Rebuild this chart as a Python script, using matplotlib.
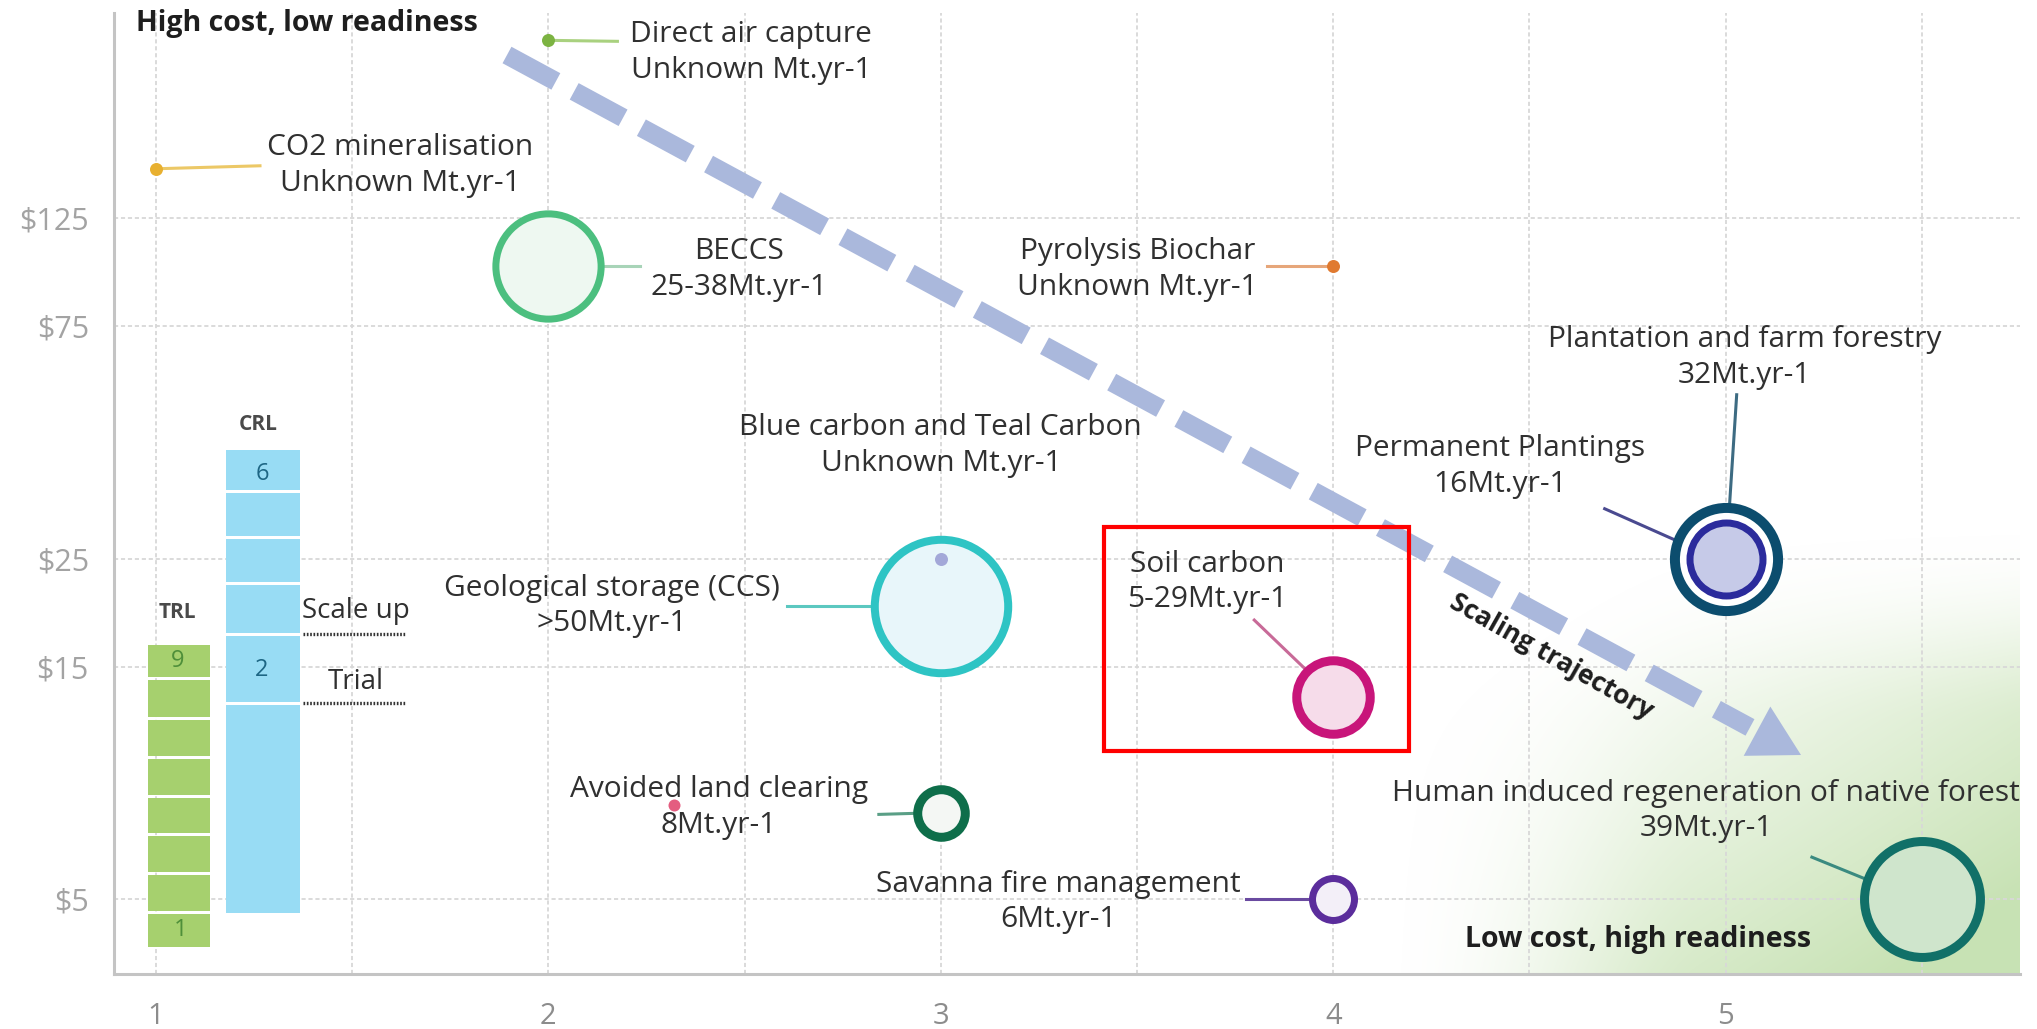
import numpy as np
import matplotlib
matplotlib.use("Agg")
import matplotlib.pyplot as plt
from matplotlib.transforms import IdentityTransform
from matplotlib.patches import Rectangle, Polygon
from matplotlib.lines import Line2D
from matplotlib.ticker import NullLocator, NullFormatter

plt.rcParams['font.family'] = ['Open Sans', 'DejaVu Sans']
plt.rcParams['lines.scale_dashes'] = False

# ---------------- data ----------------
names = ["Direct air capture", "CO2 mineralisation", "BECCS", "Pyrolysis Biochar",
         "Blue carbon and Teal Carbon", "Geological storage (CCS)", "Soil carbon",
         "Avoided land clearing", "Savanna fire management",
         "Plantation and farm forestry", "Permanent Plantings",
         "Human induced regeneration of native forest"]
readiness = [2, 1, 2, 4, 3, 3, 4, 3, 4, 5, 5, 5.5]
cost = [290, 158, 100, 100, 25, 20, 13, 7.5, 5, 25, 25, 5]
potential_text = ["Unknown Mt.yr-1", "Unknown Mt.yr-1", "25-38Mt.yr-1", "Unknown Mt.yr-1",
                  "Unknown Mt.yr-1", ">50Mt.yr-1", "5-29Mt.yr-1", "8Mt.yr-1", "6Mt.yr-1",
                  "32Mt.yr-1", "16Mt.yr-1", "39Mt.yr-1"]
potential_mt = [np.nan, np.nan, 31.5, np.nan, np.nan, 50, 17, 8, 6, 32, 16, 39]

extra_dot_readiness = [2.32]
extra_dot_cost = [7.8]

xtick_vals = [1, 2, 3, 4, 5]
xtick_labels = ["1", "2", "3", "4", "5"]
ytick_vals = [5, 15, 25, 75, 125]
ytick_labels = ["$5", "$15", "$25", "$75", "$125"]

trl_labels = ["9", "1"]
crl_labels = ["6", "2"]

# ---------------- styles (pixel offsets: +x right, +y down) ----------------
TXT = "#303030"
styles = {
    "Direct air capture": dict(ec="#7cb342", fc="#7cb342", lc="#a9d17f", ring=0,
                               text=(203, 12), lead=((69, 1), (0, 0))),
    "CO2 mineralisation": dict(ec="#e8b030", fc="#e8b030", lc="#ecc866", ring=0,
                               text=(244, -3), lead=((104, -3), (0, 0))),
    "BECCS": dict(ec="#4cbf7f", fc="#eef8f1", lc="#a8d4b8", ring=7,
                  text=(191, 4), lead=((92, 0), (56, 0))),
    "Pyrolysis Biochar": dict(ec="#e07a30", fc="#e07a30", lc="#e6a67a", ring=0,
                              text=(-196, 4), lead=((-66, 0), (0, 0))),
    "Blue carbon and Teal Carbon": dict(ec="#a3a8d8", fc="#a3a8d8", lc=None, ring=0,
                                        text=(0, -113), lead=None),
    "Geological storage (CCS)": dict(ec="#2ec4c4", fc="#e8f6fa", lc="#5cc8c0", ring=8,
                                     text=(-329, 0), lead=((-154, 0), (-70, 0))),
    "Soil carbon": dict(ec="#c8157a", fc="#f6dcea", lc="#c86a98", ring=9,
                        text=(-126, -115), lead=((-79, -77), (-29, -29))),
    "Avoided land clearing": dict(ec="#0e6e4a", fc="#f4f7f4", lc="#5a9f86", ring=9,
                                  text=(-222, -6), lead=((-62, 1), (-28, 0))),
    "Savanna fire management": dict(ec="#5b2d9c", fc="#f3eff8", lc="#6a4aa0", ring=7,
                                    text=(-275, 3), lead=((-87, 0), (-24, 0))),
    "Plantation and farm forestry": dict(ec="#0c4d6e", fc="white", lc="#3d6b82", ring=10,
                                         text=(19, -201), lead=((11, -164), (4, -56))),
    "Permanent Plantings": dict(ec="#2b2b9c", fc="#c6cae8", lc="#4a4a90", ring=7,
                                text=(-226, -92), lead=((-121, -50), (-40, -14))),
    "Human induced regeneration of native forest": dict(ec="#117068", fc="#cfe5cc",
                                                        lc="#3a8a80", ring=9,
                                                        text=(-216, -88),
                                                        lead=((-110, -42), (-56, -20))),
}

W, H, DPI = 2037, 1029, 100
K_PX = 10.0          # bubble outer radius in px per sqrt(Mt)
PT = 72.0 / DPI
LABEL_FS = 21.5

fig = plt.figure(figsize=(W / DPI, H / DPI), dpi=DPI)
fig.patch.set_facecolor("white")


def smooth(t):
    t = np.clip(t, 0, 1)
    return t * t * (3 - 2 * t)


# soft green background (lower right)
gx0, gx1, gy0, gy1 = 1380, 2020, 520, 974
gw, gh = gx1 - gx0, gy1 - gy0
xx, yy = np.meshgrid(np.linspace(0, 1, gw), np.linspace(0, 1, gh))
u = 0.6 * xx + 0.65 * yy - 0.3
alpha = np.clip(u, 0, 1) ** 1.2 * smooth(xx / 0.5) * smooth(yy / 0.45)
alpha = np.clip(alpha * 1.1, 0, 0.88)
img = np.zeros((gh, gw, 4))
img[..., 0] = 192 / 255
img[..., 1] = 222 / 255
img[..., 2] = 170 / 255
img[..., 3] = alpha
fig.figimage(img, xo=gx0, yo=H - gy1, origin="upper", zorder=0)

ax = fig.add_axes([114 / W, 1 - 974 / H, 1906 / W, 961 / H])
ax.set_zorder(1)
ax.patch.set_alpha(0)
ax.set_yscale("log")
ax.set_xlim(0.893, 5.75)
ax.set_ylim(3.51, 330)
ax.set_xticks(xtick_vals)
ax.set_xticklabels(xtick_labels)
ax.set_xticks(np.arange(1.5, 5.6, 1.0), minor=True)
ax.set_yticks(ytick_vals)
ax.set_yticklabels(ytick_labels)
ax.yaxis.set_minor_locator(NullLocator())
ax.yaxis.set_minor_formatter(NullFormatter())
ax.tick_params(axis="both", which="both", length=0)
ax.tick_params(axis="y", labelsize=22, labelcolor="#a3a3a3", pad=18)
ax.tick_params(axis="x", labelsize=21, labelcolor="#8c8c8c", pad=20)
ax.grid(True, which="major", axis="both", color="#d8d8d8", lw=1.3, ls=(0, (3, 2)))
ax.grid(True, which="minor", axis="x", color="#d8d8d8", lw=1.3, ls=(0, (3, 2)))
for s in ["top", "right"]:
    ax.spines[s].set_visible(False)
for s in ["left", "bottom"]:
    ax.spines[s].set_color("#c4c4c4")
    ax.spines[s].set_linewidth(2.2)

ident = IdentityTransform()


def P(X, Y):
    """image pixel (top-left origin) -> display coords"""
    return X, H - Y


# ---------------- bubbles & labels ----------------
for i, name in enumerate(names):
    st = styles[name]
    mt = potential_mt[i]
    if np.isnan(mt):
        r_out, ring = 6.5, 0
        s = (2 * r_out * PT) ** 2
        ax.scatter([readiness[i]], [cost[i]], s=s, color=st["fc"], zorder=6,
                   linewidths=0)
    else:
        ring = st["ring"]
        r_out = K_PX * np.sqrt(mt)
        r_path = r_out - ring / 2
        s = (2 * r_path * PT) ** 2
        ax.scatter([readiness[i]], [cost[i]], s=s, facecolor=st["fc"],
                   edgecolor=st["ec"], linewidths=ring * PT, zorder=5 + i * 0.01)
    cx, cy = ax.transData.transform((readiness[i], cost[i]))
    tx, ty = st["text"]
    ax.text(cx + tx, cy - ty, f"{name}\n{potential_text[i]}", transform=ident,
            ha="center", va="center", multialignment="center", fontsize=LABEL_FS,
            color=TXT, linespacing=1.3, zorder=8, clip_on=False)
    if st["lead"] is not None:
        (sx, sy), (ex, ey) = st["lead"]
        ax.add_line(Line2D([cx + sx, cx + ex], [cy - sy, cy - ey], transform=ident,
                           color=st["lc"], lw=2.2, zorder=4, clip_on=False))

ax.scatter(extra_dot_readiness, extra_dot_cost, s=(2 * 6 * PT) ** 2, color="#e0406a",
           linewidths=0, zorder=6, alpha=0.85)

# ---------------- scaling trajectory arrow ----------------
start = np.array([507.0, 55.0])
tip = np.array([1801.0, 755.0])
d = (tip - start) / np.linalg.norm(tip - start)
n = np.array([-d[1], d[0]])
base = tip - 50 * d
ln_end = base - 8 * d
xs, ys = P(*start)
xe, ye = P(*ln_end)
ARROW_C = "#aab8dc"
ax.add_line(Line2D([xs, xe], [ys, ye], transform=ident, color=ARROW_C, lw=13.5,
                   ls=(0, (40, 15)), solid_capstyle="butt", dash_capstyle="butt",
                   zorder=3, clip_on=False))
tri = [P(*tip), P(*(base + 28 * n)), P(*(base - 28 * n))]
ax.add_patch(Polygon(tri, closed=True, transform=ident, facecolor=ARROW_C,
                     edgecolor="none", zorder=3, clip_on=False))
ax.text(*P(1551, 657), "Scaling trajectory", transform=ident, rotation=-29.5,
        rotation_mode="anchor", ha="center", va="center", fontsize=19,
        fontweight="bold", color="#1e1e1e", zorder=8)

# ---------------- corner labels ----------------
ax.text(*P(136, 23), "High cost, low readiness", transform=ident, ha="left",
        va="center", fontsize=20.5, fontweight="bold", color="#1e1e1e", zorder=8,
        clip_on=False)
ax.text(*P(1638, 940), "Low cost, high readiness", transform=ident, ha="center",
        va="center", fontsize=20.5, fontweight="bold", color="#1e1e1e", zorder=8)

# ---------------- TRL / CRL bars ----------------
def rect_px(x0, y0, x1, y1, **kw):
    ax.add_patch(Rectangle(P(x0, y1), x1 - x0, y1 - y0, transform=ident,
                           clip_on=False, **kw))


trl_x0, trl_x1 = 148, 210
trl_edges = [643, 678, 718, 757, 796, 834, 873, 912, 948]
for a, b in zip(trl_edges[:-1], trl_edges[1:]):
    rect_px(trl_x0, a + 1.5, trl_x1, b - 1.5, facecolor="#a6d06e", edgecolor="none",
            zorder=6)
crl_x0, crl_x1 = 226, 300
crl_edges = [448, 491, 537, 583, 634, 703, 914]
for a, b in zip(crl_edges[:-1], crl_edges[1:]):
    rect_px(crl_x0, a + 1.5, crl_x1, b - 1.5, facecolor="#98dcf4", edgecolor="none",
            zorder=6)

ax.text(*P(177, 613), "TRL", transform=ident, ha="center", va="center", fontsize=15,
        fontweight="bold", color="#4a4a4a", zorder=8)
ax.text(*P(258, 425), "CRL", transform=ident, ha="center", va="center", fontsize=15,
        fontweight="bold", color="#4a4a4a", zorder=8)
ax.text(*P(178, 661), trl_labels[0], transform=ident, ha="center", va="center",
        fontsize=17, color="#4f8f3a", zorder=8)
ax.text(*P(181, 930), trl_labels[1], transform=ident, ha="center", va="center",
        fontsize=17, color="#4f8f3a", zorder=8)
ax.text(*P(262, 474), crl_labels[0], transform=ident, ha="center", va="center",
        fontsize=17, color="#1d6684", zorder=8)
ax.text(*P(262, 670), crl_labels[1], transform=ident, ha="center", va="center",
        fontsize=17, color="#1d6684", zorder=8)

for yy_, lab, ty_ in [(634, "Scale up", 611), (703, "Trial", 682)]:
    x0_, y0_ = P(303, yy_)
    x1_, _ = P(405, yy_)
    ax.add_line(Line2D([x0_, x1_], [y0_, y0_], transform=ident, color="#333333",
                       lw=2.4, ls=(0, (1.2, 1.2)), zorder=8, clip_on=False))
    ax.text(*P(356, ty_), lab, transform=ident, ha="center", va="center",
            fontsize=20, color=TXT, zorder=8)

# ---------------- highlight box ----------------
rect_px(1104, 527, 1409, 751, facecolor="none", edgecolor="#ff0000", lw=3.0, zorder=9)

fig.savefig("out.png", dpi=DPI, facecolor="white")
